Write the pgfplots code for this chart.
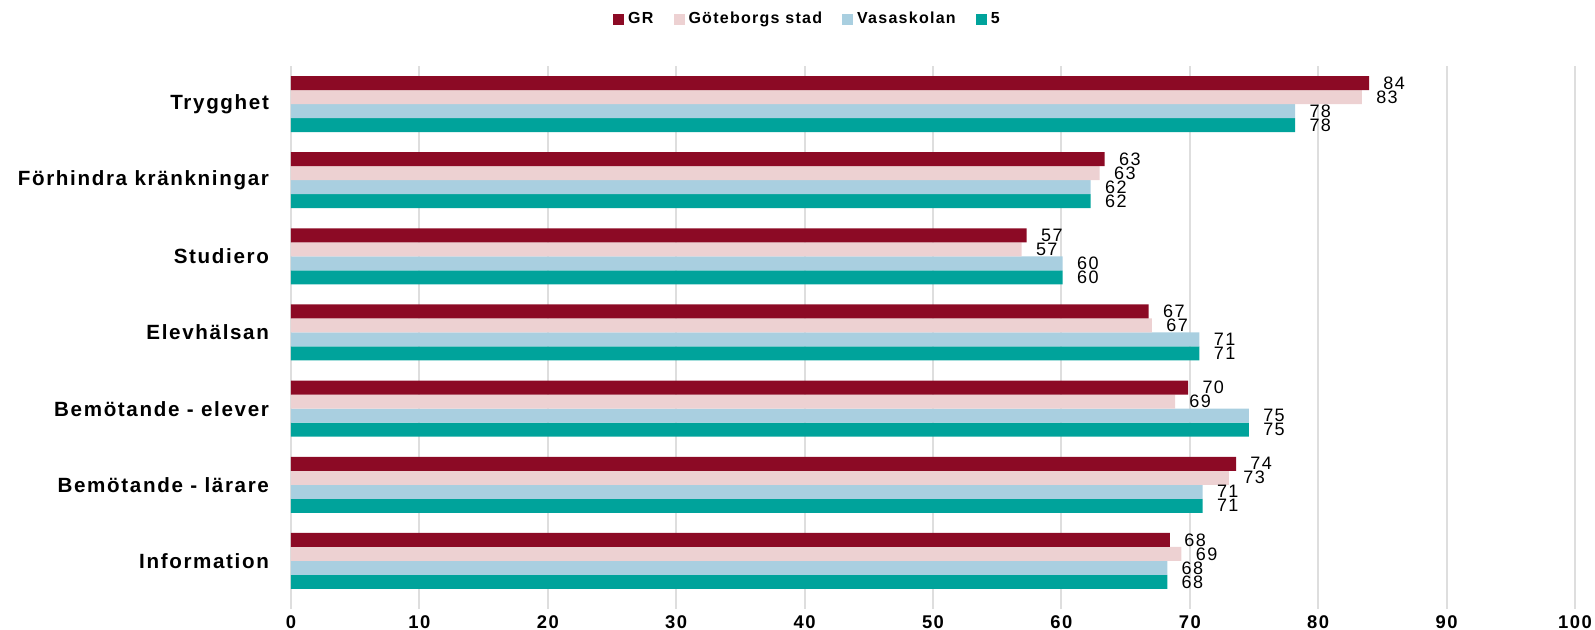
\documentclass[border=0pt]{standalone}
\usepackage{fontspec}
\setmainfont{Liberation Sans}[LetterSpace=8]
\usepackage{pgfplots}
\pgfplotsset{compat=1.18}
\usepackage{pgfplotstable}
\definecolor{cGR}{HTML}{8C0A25}
\definecolor{cGB}{HTML}{EDD1D2}
\definecolor{cVA}{HTML}{A9CFE0}
\definecolor{cFV}{HTML}{00A39B}
\definecolor{cGrid}{HTML}{DEDEDE}

\pgfplotstableread{
x y l
83.96 6 84
63.37 5 63
57.30 4 57
66.80 3 67
69.87 2 70
73.60 1 74
68.45 0 68
}\tGR
\pgfplotstableread{
x y l
83.40 6 83
62.98 5 63
56.90 4 57
67.05 3 67
68.85 2 69
73.05 1 73
69.35 0 69
}\tGB
\pgfplotstableread{
x y l
78.20 6 78
62.28 5 62
60.10 4 60
70.75 3 71
74.60 2 75
71.00 1 71
68.25 0 68
}\tVA
\pgfplotstableread{
x y l
78.20 6 78
62.28 5 62
60.10 4 60
70.75 3 71
74.60 2 75
71.00 1 71
68.25 0 68
}\tFV

\begin{document}
\begin{tikzpicture}
\useasboundingbox (0,0) rectangle (797.5pt,315pt);
\begin{axis}[
  at={(145.5pt,15.5pt)}, anchor=south west,
  scale only axis, width=642pt, height=266.5pt,
  xbar=0pt, bar width=7pt,
  xmin=0, xmax=100, ymin=-0.5, ymax=6.5,
  xtick={0,10,...,100},
  ytick={0,...,6},
  yticklabels={Information, Bemötande - lärare, Bemötande - elever, Elevhälsan, Studiero, Förhindra kränkningar, Trygghet},
  extra y ticks={-0.5,0.5,...,6.5},
  extra y tick labels={},
  extra y tick style={major tick length=3.5pt, tick align=outside, ytick pos=left, tick style={draw=cGrid, line width=1pt}, grid=none},
  ytick style={draw=none},
  xtick pos=lower, ytick pos=left,
  xtick style={draw=cGrid, line width=1pt},
  tick align=outside, major tick length=5pt,
  axis line style={draw=none},
  xmajorgrids, grid style={draw=cGrid, line width=1pt},
  /pgf/number format/assume math mode=true,
  xticklabel style={font=\bfseries\fontsize{9.2}{10}\selectfont},
  yticklabel style={font=\bfseries\fontsize{10.3}{12}\selectfont, xshift=-2.5pt},
  nodes near coords, point meta=explicit symbolic,
  nodes near coords style={anchor=west, inner sep=0pt, xshift=7pt, font=\fontsize{9}{10}\selectfont, text=black},
  reverse legend,
  legend columns=4,
  legend image code/.code={\fill[#1] (0pt,-2.75pt) rectangle (5.5pt,2.75pt);},
  legend style={draw=none, at={(0.403,1.088)}, anchor=center, font=\bfseries\fontsize{8}{9}\selectfont,
    /tikz/every even column/.append style={column sep=8pt}},
]
\addplot[draw=none, fill=cFV] table[x=x, y=y, meta=l] {\tFV};
\addplot[draw=none, fill=cVA] table[x=x, y=y, meta=l] {\tVA};
\addplot[draw=none, fill=cGB] table[x=x, y=y, meta=l] {\tGB};
\addplot[draw=none, fill=cGR] table[x=x, y=y, meta=l] {\tGR};
\legend{5, Vasaskolan, Göteborgs stad, GR}
\end{axis}
\end{tikzpicture}
\end{document}
